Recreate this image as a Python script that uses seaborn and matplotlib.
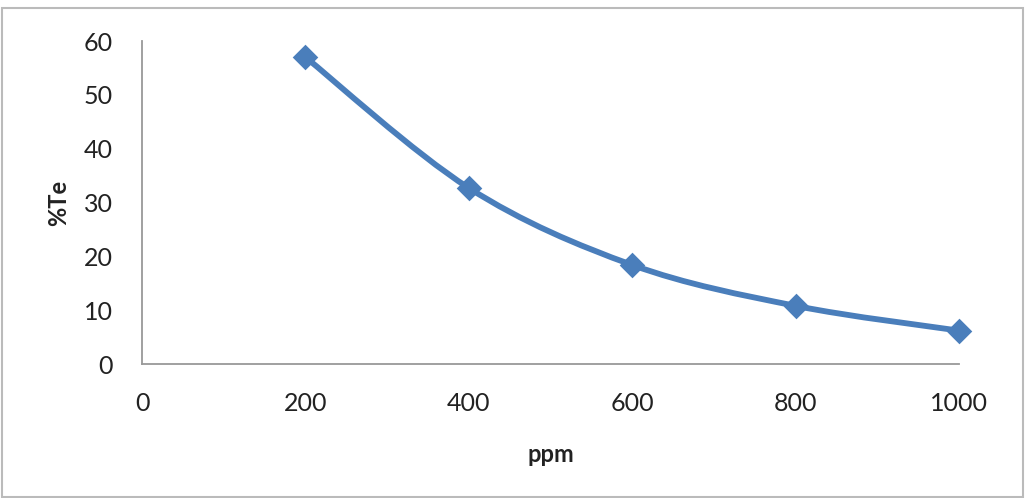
import numpy as np
import pandas as pd
import matplotlib
matplotlib.use("Agg")
import matplotlib.pyplot as plt
from matplotlib.path import Path
from matplotlib.patches import PathPatch, Rectangle
import seaborn as sns

ppm = [200, 400, 600, 800, 1000]
te = [57.0, 32.7, 18.4, 10.8, 6.2]
x_ticks = [0, 200, 400, 600, 800, 1000]
y_ticks = [0, 10, 20, 30, 40, 50, 60]

sns.set_theme(style="white")
plt.rcParams['font.family'] = ['Lato', 'DejaVu Sans']

color = "#4A7EBB"
df = pd.DataFrame({"ppm": ppm, "te": te})

fig = plt.figure(figsize=(10.30, 4.98), dpi=100)
ax = fig.add_axes([142/1030, (498-364)/498, (959-142)/1030, (364-41)/498])

# Smoothed line (Excel-style Catmull-Rom Bezier)
xs = np.array(ppm, dtype=float)
ys = np.array(te, dtype=float)
pts = np.column_stack([xs, ys])
verts = [tuple(pts[0])]
codes = [Path.MOVETO]
n = len(pts)
for i in range(n - 1):
    p0 = pts[i - 1] if i > 0 else pts[i]
    p1 = pts[i]
    p2 = pts[i + 1]
    p3 = pts[i + 2] if i + 2 < n else pts[i + 1]
    c1 = p1 + (p2 - p0) / 6.0
    c2 = p2 - (p3 - p1) / 6.0
    verts += [tuple(c1), tuple(c2), tuple(p2)]
    codes += [Path.CURVE4] * 3
patch = PathPatch(Path(verts, codes), facecolor="none", edgecolor=color,
                  linewidth=4.2, capstyle="round", joinstyle="round", zorder=2)
ax.add_patch(patch)

sns.scatterplot(data=df, x="ppm", y="te", marker="D", s=170, color=color,
                edgecolor=color, linewidth=0, ax=ax, zorder=3, clip_on=False)

ax.set_xlim(0, 1000)
ax.set_ylim(0, 60)
ax.set_xticks(x_ticks)
ax.set_yticks(y_ticks)
ax.set_xticklabels([str(v) for v in x_ticks])
ax.set_yticklabels([str(v) for v in y_ticks])
ax.tick_params(axis="both", length=0, labelsize=18, colors="#222222")
ax.tick_params(axis="x", pad=20)
ax.tick_params(axis="y", pad=21)
for s in ["top", "right"]:
    ax.spines[s].set_visible(False)
for s in ["left", "bottom"]:
    ax.spines[s].set_color("#999999")
    ax.spines[s].set_linewidth(1.3)
ax.grid(False)

ax.set_xlabel("ppm", fontsize=17, fontweight="bold", labelpad=20, color="#222222")
ax.set_ylabel("%Te", fontsize=17, fontweight="bold", labelpad=10, color="#222222")

fig.patches.append(Rectangle((2/1030, 1/498), 1021/1030, 489/498, transform=fig.transFigure,
                             fill=False, edgecolor="#BBBBBB", linewidth=1.5))

fig.savefig("out.png", dpi=100)
